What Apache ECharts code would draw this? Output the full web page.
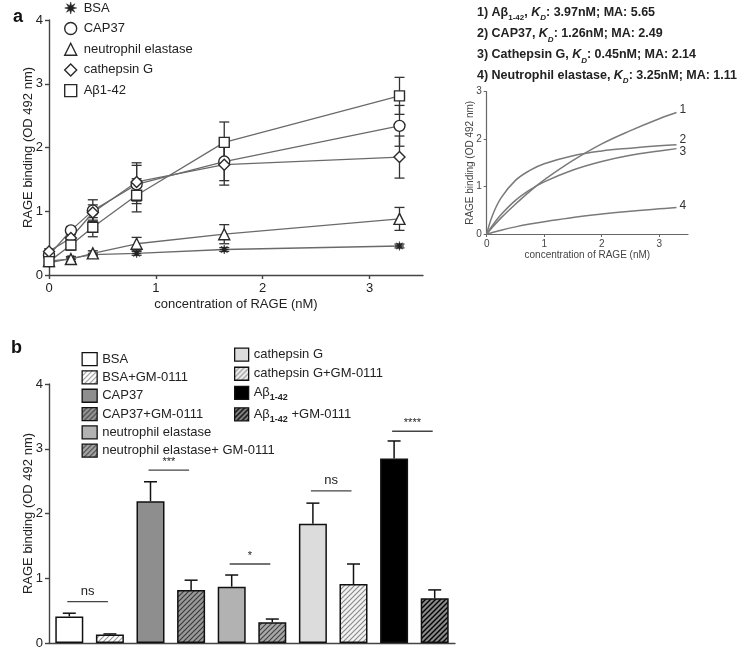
<!DOCTYPE html>
<html><head><meta charset="utf-8">
<script src="https://cdn.jsdelivr.net/npm/echarts@6/dist/echarts.min.js"></script>
<style>html,body{margin:0;padding:0;background:#fff}#c{width:744px;height:652px}</style>
</head><body><div id="c"></div>
<script>
// ---------- Panel a: binding curves (measured) ----------
const concentrations = [0, 0.205, 0.41, 0.82, 1.64, 3.28];
const seriesNamesA = ['BSA', 'CAP37', 'neutrophil elastase', 'cathepsin G', 'Aβ1-42'];
const bsaMean   = [0.19, 0.26, 0.32, 0.34, 0.40, 0.455];
const bsaErr    = [0.02, 0.02, 0.02, 0.03, 0.03, 0.03];
const cap37Mean = [0.31, 0.70, 1.01, 1.42, 1.78, 2.34];
const cap37Err  = [0.04, 0.06, 0.17, 0.30, 0.30, 0.32];
const neMean    = [0.22, 0.25, 0.34, 0.49, 0.64, 0.88];
const neErr     = [0.03, 0.04, 0.04, 0.10, 0.15, 0.18];
const catgMean  = [0.37, 0.58, 0.98, 1.46, 1.73, 1.85];
const catgErr   = [0.04, 0.05, 0.12, 0.30, 0.32, 0.33];
const abMean    = [0.21, 0.47, 0.75, 1.25, 2.08, 2.81];
const abErr     = [0.05, 0.08, 0.15, 0.26, 0.32, 0.29];
const yTicksA = [0, 1, 2, 3, 4];
const xTicksA = [0, 1, 2, 3];

// ---------- Panel a inset: fitted curves ----------
const fitX      = [0, 0.1, 0.25, 0.5, 0.75, 1, 1.5, 2, 2.5, 3, 3.3];
const fitAb     = [0, 0.14, 0.34, 0.63, 0.90, 1.14, 1.55, 1.90, 2.18, 2.43, 2.56];
const fitCatG   = [0, 0.39, 0.76, 1.13, 1.34, 1.48, 1.65, 1.75, 1.81, 1.86, 1.88];
const fitCap37  = [0, 0.18, 0.41, 0.71, 0.93, 1.10, 1.35, 1.53, 1.66, 1.75, 1.80];
const fitNE     = [0, 0.03, 0.08, 0.15, 0.21, 0.26, 0.35, 0.42, 0.48, 0.53, 0.56];
const fitCurveLabels = ['1', '2', '3', '4'];
const fitNames = ['Aβ', 'CAP37', 'Cathepsin G', 'Neutrophil elastase'];
const kdValues = [3.97, 1.26, 0.45, 3.25];
const maValues = [5.65, 2.49, 2.14, 1.11];
const yTicksInset = [0, 1, 2, 3];
const xTicksInset = [0, 1, 2, 3];

// ---------- Panel b: bars ----------
const barCategories = ['BSA', 'BSA+GM-0111', 'CAP37', 'CAP37+GM-0111', 'neutrophil elastase',
  'neutrophil elastase+ GM-0111', 'cathepsin G', 'cathepsin G+GM-0111', 'Aβ1-42', 'Aβ1-42 +GM-0111'];
const barValues = [0.41, 0.13, 2.19, 0.82, 0.87, 0.32, 1.84, 0.91, 2.85, 0.69];
const barErrors = [0.05, 0.01, 0.30, 0.15, 0.18, 0.05, 0.32, 0.31, 0.27, 0.13];
const sigPairs  = [[0, 1], [2, 3], [4, 5], [6, 7], [8, 9]];
const sigHeights = [0.64, 2.67, 1.22, 2.35, 3.27];
const sigLabels = ['ns', '***', '*', 'ns', '****'];
const yTicksB = [0, 1, 2, 3, 4];

// ---------- styles ----------
const FONT = 'Liberation Sans, Arial, sans-serif';
function hatch(bg, fg, lw) {
  const c = document.createElement('canvas');
  const s = 5; c.width = s; c.height = s;
  const g = c.getContext('2d');
  g.fillStyle = bg; g.fillRect(0, 0, s, s);
  g.strokeStyle = fg; g.lineWidth = lw;
  g.beginPath();
  g.moveTo(-1, s + 1); g.lineTo(s + 1, -1);
  g.moveTo(-1, 1); g.lineTo(1, -1);
  g.moveTo(s - 1, s + 1); g.lineTo(s + 1, s - 1);
  g.stroke();
  return { image: c, repeat: 'repeat' };
}
const barFills = ['#ffffff', hatch('#ffffff', '#9a9a9a', 1.2), '#8e8e8e', hatch('#9a9a9a', '#3a3a3a', 1.2),
  '#b2b2b2', hatch('#a8a8a8', '#444', 1.2), '#dcdcdc', hatch('#f2f2f2', '#8a8a8a', 1.2),
  '#000000', hatch('#8a8a8a', '#000', 1.4)];

function starPath(n, r1, r2) {
  let d = 'path://';
  for (let i = 0; i < 2 * n; i++) {
    const r = i % 2 ? r2 : r1;
    const a = Math.PI * i / n - Math.PI / 2;
    d += (i ? 'L' : 'M') + (50 + r * Math.cos(a)).toFixed(2) + ' ' + (50 + r * Math.sin(a)).toFixed(2);
  }
  return d + 'Z';
}
const symbolsA = [starPath(8, 50, 20), 'circle', 'triangle', 'diamond', 'rect'];
const symbolSizesA = [9, 11, 11, 11, 10];
const meansA = [bsaMean, cap37Mean, neMean, catgMean, abMean];
const errsA = [bsaErr, cap37Err, neErr, catgErr, abErr];

const series = [];
meansA.forEach((m, s) => {
  series.push({
    type: 'custom', xAxisIndex: 0, yAxisIndex: 0, z: 2, silent: true,
    data: concentrations.map((x, i) => [x, m[i], errsA[s][i]]),
    encode: { x: 0, y: 1 },
    renderItem: (params, api) => {
      const x = api.value(0), y = api.value(1), e = api.value(2);
      const t = api.coord([x, y + e]), b = api.coord([x, y - e]);
      const hw = 5, st = { stroke: '#333', lineWidth: 1.3 };
      return { type: 'group', children: [
        { type: 'line', shape: { x1: t[0], y1: t[1], x2: b[0], y2: b[1] }, style: st },
        { type: 'line', shape: { x1: t[0] - hw, y1: t[1], x2: t[0] + hw, y2: t[1] }, style: st },
        { type: 'line', shape: { x1: b[0] - hw, y1: b[1], x2: b[0] + hw, y2: b[1] }, style: st }
      ] };
    }
  });
});
meansA.forEach((m, s) => {
  series.push({
    name: seriesNamesA[s], type: 'line', xAxisIndex: 0, yAxisIndex: 0, z: 3,
    data: concentrations.map((x, i) => [x, m[i]]),
    symbol: symbolsA[s], symbolSize: symbolSizesA[s], showAllSymbol: true,
    lineStyle: { color: '#6a6a6a', width: 1.3 },
    itemStyle: s === 0 ? { color: '#222', borderColor: '#222', borderWidth: 0.5 }
                       : { color: '#fff', borderColor: '#2a2a2a', borderWidth: 1.4 }
  });
});
const fitSeries = [fitAb, fitCatG, fitCap37, fitNE];
const fitOffsets = [[0, -3], [0, -5], [0, 3], [0, -1.5]];
fitSeries.forEach((f, s) => {
  series.push({
    type: 'line', xAxisIndex: 1, yAxisIndex: 1, smooth: 0.4, symbol: 'none', silent: true,
    data: fitX.map((x, i) => [x, f[i]]),
    lineStyle: { color: '#7a7a7a', width: 1.5 },
    endLabel: { show: true, formatter: fitCurveLabels[s], distance: 3, offset: fitOffsets[s],
      color: '#333', fontSize: 12, fontFamily: FONT }
  });
});
barCategories.forEach((name, k) => {
  series.push({
    name: 'b:' + name, type: 'bar', xAxisIndex: 2, yAxisIndex: 2, barWidth: 28, barGap: '-100%',
    data: barCategories.map((c, j) => j === k ? barValues[k] : '-'),
    itemStyle: { color: barFills[k], borderColor: '#111', borderWidth: 1.5 },
    z: 3
  });
});
series.push({
  type: 'custom', xAxisIndex: 2, yAxisIndex: 2, z: 2, silent: true,
  data: barValues.map((v, i) => [i, v, barErrors[i]]),
  encode: { x: 0, y: 1 },
  renderItem: (params, api) => {
    const i = api.value(0), v = api.value(1), e = api.value(2);
    const t = api.coord([i, v + e]), b = api.coord([i, v]);
    const hw = 6.5, st = { stroke: '#111', lineWidth: 1.5 };
    return { type: 'group', children: [
      { type: 'line', shape: { x1: t[0], y1: t[1], x2: b[0], y2: b[1] }, style: st },
      { type: 'line', shape: { x1: t[0] - hw, y1: t[1], x2: t[0] + hw, y2: t[1] }, style: st }
    ] };
  }
});
series.push({
  type: 'custom', xAxisIndex: 2, yAxisIndex: 2, z: 4, silent: true,
  data: sigPairs.map((p, i) => [p[0], p[1], sigHeights[i]]),
  encode: { x: 0, y: 2 },
  renderItem: (params, api) => {
    const a = api.coord([api.value(0), api.value(2)]);
    const b = api.coord([api.value(1), api.value(2)]);
    const lab = sigLabels[params.dataIndex];
    const isStar = lab.indexOf('*') >= 0;
    return { type: 'group', children: [
      { type: 'line', shape: { x1: a[0] - 2, y1: a[1], x2: b[0] - 2, y2: b[1] }, style: { stroke: '#444', lineWidth: 1.3 } },
      { type: 'text', style: { x: (a[0] + b[0]) / 2 - 2, y: a[1] - (isStar ? 3 : 4), text: lab,
        align: 'center', verticalAlign: 'bottom', fill: '#222',
        font: (isStar ? '11px ' : '13px ') + FONT } }
    ] };
  }
});

const axisA = { lineStyle: { color: '#444', width: 1.4 } };
const titleRich = {
  sub: { fontSize: 8, fontWeight: 'bold', fontFamily: FONT, color: '#222', verticalAlign: 'bottom', lineHeight: 15, padding: [0, 0, -2, 0] },
  it: { fontSize: 12.5, fontWeight: 'bold', fontStyle: 'italic', fontFamily: FONT, color: '#222', lineHeight: 15 },
  isub: { fontSize: 8, fontWeight: 'bold', fontStyle: 'italic', fontFamily: FONT, color: '#222', verticalAlign: 'bottom', lineHeight: 15, padding: [0, 0, -2, 0] }
};
const fitTitles = fitNames.map((n, i) => ({
  left: 477, top: [5, 26.3, 47.3, 68][i], padding: 0,
  text: `${i + 1}) ${i === 0 ? n + '{sub|1-42}' : n}, {it|K}{isub|D}: ${kdValues[i].toFixed(2)}nM; MA: ${maValues[i].toFixed(2)}`,
  textStyle: { fontSize: 12.5, fontWeight: 'bold', fontFamily: FONT, color: '#222', lineHeight: 15, rich: titleRich }
}));

const legendRich = {
  ab: { fontSize: 13, fontFamily: FONT, color: '#222' },
  s: { fontSize: 9, fontWeight: 'bold', fontFamily: FONT, color: '#222', verticalAlign: 'bottom', padding: [0, 0, -3, 0] }
};
function legendFmt(name) {
  const n = name.slice(2);
  if (n.indexOf('Aβ1-42') === 0) return '{ab|Aβ}{s|1-42}{ab|' + n.slice(6) + '}';
  return n;
}
const nameStyle = { fontSize: 13, color: '#222', fontFamily: FONT };

const option = {
  animation: false,
  backgroundColor: '#fff',
  textStyle: { fontFamily: FONT },
  title: [
    { left: 13, top: 8, padding: 0, text: 'a', textStyle: { fontSize: 18, fontWeight: 'bold', fontFamily: FONT, color: '#111' } },
    { left: 11, top: 339, padding: 0, text: 'b', textStyle: { fontSize: 18, fontWeight: 'bold', fontFamily: FONT, color: '#111' } },
    ...fitTitles
  ],
  legend: [
    {
      orient: 'vertical', left: 64, top: 1.5, padding: 0, itemWidth: 12, itemHeight: 12, itemGap: 7.3,
      selectedMode: false,
      data: seriesNamesA.map((n, s) => ({
        name: n, icon: symbolsA[s],
        itemStyle: s === 0 ? { color: '#222', borderColor: '#222', borderWidth: 0.5 } : { color: '#fff', borderColor: '#2a2a2a', borderWidth: 1.4 }
      })),
      textStyle: { fontSize: 13, fontFamily: FONT, color: '#222', padding: [0, 0, 0, 2] }
    },
    {
      orient: 'vertical', left: 81.5, top: 352, padding: 0, itemWidth: 15, itemHeight: 13, itemGap: 4,
      selectedMode: false, icon: 'rect', itemStyle: { borderColor: '#111', borderWidth: 1.3 },
      data: barCategories.slice(0, 6).map(n => 'b:' + n), formatter: legendFmt,
      textStyle: { fontSize: 13, fontFamily: FONT, color: '#222', rich: legendRich }
    },
    {
      orient: 'vertical', left: 234, top: 347.5, padding: 0, itemWidth: 14, itemHeight: 13, itemGap: 4.8,
      selectedMode: false, icon: 'rect', itemStyle: { borderColor: '#111', borderWidth: 1.3 },
      data: barCategories.slice(6).map(n => 'b:' + n), formatter: legendFmt,
      textStyle: { fontSize: 13, fontFamily: FONT, color: '#222', rich: legendRich }
    }
  ],
  grid: [
    { left: 49, top: 20, width: 374, height: 255 },
    { left: 486.7, top: 91.7, width: 201.3, height: 142.3 },
    { left: 49, top: 384, width: 406, height: 259 }
  ],
  xAxis: [
    { type: 'value', gridIndex: 0, min: 0, max: 3.5, interval: 1,
      name: 'concentration of RAGE (nM)', nameLocation: 'middle', nameGap: 23, nameMoveOverlap: false,
      nameTextStyle: nameStyle,
      axisLine: { show: true, ...axisA }, splitLine: { show: false },
      axisTick: { show: true, length: 4, customValues: xTicksA, lineStyle: { color: '#444', width: 1.4 } },
      axisLabel: { customValues: xTicksA, margin: 7, fontSize: 13, color: '#222' } },
    { type: 'value', gridIndex: 1, min: 0, max: 3.5, interval: 1,
      name: 'concentration of RAGE (nM)', nameLocation: 'middle', nameGap: 16, nameMoveOverlap: false,
      nameTextStyle: { fontSize: 10, color: '#444', fontFamily: FONT },
      axisLine: { show: true, lineStyle: { color: '#666', width: 1.2 } }, splitLine: { show: false },
      axisTick: { show: true, length: 3, customValues: xTicksInset, lineStyle: { color: '#666' } },
      axisLabel: { customValues: xTicksInset, margin: 5, fontSize: 10, color: '#444' } },
    { type: 'category', gridIndex: 2, data: barCategories, boundaryGap: true,
      axisLine: { show: true, lineStyle: { color: '#444', width: 1.4 } },
      axisTick: { show: false }, axisLabel: { show: false }, splitLine: { show: false } }
  ],
  yAxis: [
    { type: 'value', gridIndex: 0, min: 0, max: 4, interval: 1,
      name: 'RAGE binding (OD 492 nm)', nameLocation: 'middle', nameGap: 14.5, nameRotate: 90, nameMoveOverlap: false,
      nameTextStyle: nameStyle,
      axisLine: { show: true, ...axisA }, splitLine: { show: false },
      axisTick: { show: true, length: 4, customValues: yTicksA, lineStyle: { color: '#444', width: 1.4 } },
      axisLabel: { customValues: yTicksA, margin: 6, fontSize: 13, color: '#222' } },
    { type: 'value', gridIndex: 1, min: 0, max: 3, interval: 1,
      name: 'RAGE binding (OD 492 nm)', nameLocation: 'middle', nameGap: 11, nameRotate: 90, nameMoveOverlap: false,
      nameTextStyle: { fontSize: 10, color: '#444', fontFamily: FONT },
      axisLine: { show: true, lineStyle: { color: '#666', width: 1.2 } }, splitLine: { show: false },
      axisTick: { show: true, length: 3, customValues: yTicksInset, lineStyle: { color: '#666' } },
      axisLabel: { customValues: yTicksInset, margin: 5, fontSize: 10, color: '#444' } },
    { type: 'value', gridIndex: 2, min: 0, max: 4, interval: 1,
      name: 'RAGE binding (OD 492 nm)', nameLocation: 'middle', nameGap: 14.5, nameRotate: 90, nameMoveOverlap: false,
      nameTextStyle: nameStyle,
      axisLine: { show: true, ...axisA }, splitLine: { show: false },
      axisTick: { show: true, length: 4, customValues: yTicksB, lineStyle: { color: '#444', width: 1.4 } },
      axisLabel: { customValues: yTicksB, margin: 6, fontSize: 13, color: '#222' } }
  ],
  series
};
const chart = echarts.init(document.getElementById('c'), null, { renderer: 'canvas' });
chart.setOption(option);
</script>
</body></html>
